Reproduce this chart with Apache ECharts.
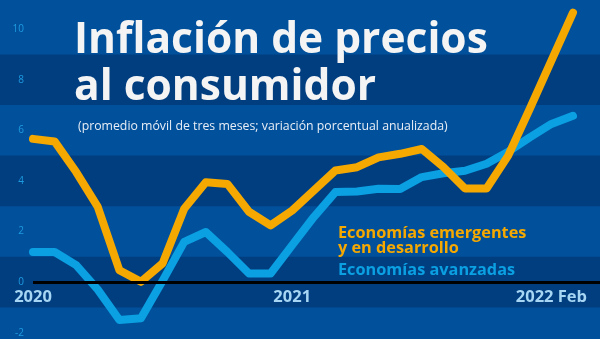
<!DOCTYPE html>
<html><head><meta charset="utf-8">
<script src="https://cdn.jsdelivr.net/npm/echarts@6/dist/echarts.min.js"></script>
<style>html,body{margin:0;padding:0;background:#00509b}#c{width:600px;height:339px}</style>
</head><body><div id="c"></div>
<script>
const months = ['Ene 2020','Feb 2020','Mar 2020','Abr 2020','May 2020','Jun 2020','Jul 2020','Ago 2020','Sep 2020','Oct 2020','Nov 2020','Dic 2020',
  'Ene 2021','Feb 2021','Mar 2021','Abr 2021','May 2021','Jun 2021','Jul 2021','Ago 2021','Sep 2021','Oct 2021','Nov 2021','Dic 2021',
  'Ene 2022','Feb 2022'];
const emerging = [5.66, 5.56, 4.35, 2.97, 0.47, 0.01, 0.74, 2.9, 3.95, 3.88, 2.78, 2.24, 2.83, 3.62, 4.41, 4.54, 4.93, 5.07, 5.26, 4.55, 3.7, 3.7, 5.0, 6.85, 8.75, 10.65];
const advanced = [1.19, 1.19, 0.67, -0.3, -1.5, -1.43, 0.05, 1.59, 1.98, 1.19, 0.34, 0.34, 1.46, 2.57, 3.56, 3.58, 3.69, 3.68, 4.15, 4.3, 4.4, 4.68, 5.15, 5.72, 6.25, 6.57];
const xTickIndex = [0, 12, 24];
const xTickLabels = ['2020', '2021', '2022 Feb'];
const yTicks = [-2, 0, 2, 4, 6, 8, 10];
const darkBands = [[-1, 1], [3, 5], [7, 9]];
const seriesNames = ['Economías emergentes\ny en desarrollo', 'Economías avanzadas'];
const titleText = 'Inflación de precios\nal consumidor';
const subtitleText = '(promedio móvil de tres meses; variación porcentual anualizada)';

const FONT = 'Open Sans';
const ORANGE = '#f5a800';
const BLUE = '#0aa0e2';
const X_MIN = -33 / 21.6, X_MAX = 26.25;
const pairs = arr => arr.map((v, i) => [i, v]);

const chart = echarts.init(document.getElementById('c'));
chart.setOption({
  backgroundColor: '#00509b',
  animation: false,
  textStyle: { fontFamily: FONT },
  title: [
    { text: titleText, left: 69, top: 12,
      textStyle: { color: '#f4f4f4', fontSize: 42.5, fontWeight: 'bold', lineHeight: 47, fontFamily: FONT } },
    { text: subtitleText, left: 73, top: 115,
      textStyle: { color: '#e8eef6', fontSize: 12.3, fontWeight: 'normal', fontFamily: FONT } },
    { text: seriesNames[0], left: 333, top: 221,
      textStyle: { color: ORANGE, fontSize: 16.3, fontWeight: 'bold', lineHeight: 15, fontFamily: FONT } },
    { text: seriesNames[1], left: 333, top: 258,
      textStyle: { color: BLUE, fontSize: 16.3, fontWeight: 'bold', lineHeight: 15, fontFamily: FONT } }
  ],
  grid: [
    { left: 0, right: 0, top: 0, bottom: 0, containLabel: false, outerBoundsMode: 'none' },
    { left: 0, right: 0, top: 0, bottom: 57, containLabel: false, outerBoundsMode: 'none' }
  ],
  xAxis: [
    {
      type: 'value', min: X_MIN, max: X_MAX, gridIndex: 0,
      splitLine: { show: false }, axisLine: { show: false }, axisTick: { show: false },
      axisLabel: { show: false }
    },
    {
      type: 'value', min: X_MIN, max: X_MAX, gridIndex: 1, position: 'bottom', z: 10,
      splitLine: { show: false }, axisLine: { show: false, onZero: false }, axisTick: { show: false },
      axisLabel: {
        customValues: xTickIndex, interval: 0,
        formatter: v => { const k = xTickIndex.indexOf(Math.round(v)); return k >= 0 ? xTickLabels[k] : ''; },
        color: '#a6d6f3', fontSize: 16.5, fontWeight: 'bold', margin: 7, fontFamily: FONT
      }
    }
  ],
  yAxis: [
    {
      type: 'value', min: -2.25, max: 11.15, offset: -33, gridIndex: 0, z: 10,
      splitLine: { show: false }, axisLine: { show: false }, axisTick: { show: false },
      axisLabel: {
        customValues: yTicks, interval: 0,
        formatter: v => String(v),
        color: '#1e9be0', fontSize: 10, margin: 9, fontFamily: FONT
      }
    },
    {
      type: 'value', min: 0, max: 1, gridIndex: 1, show: false
    }
  ],
  series: [
    {
      name: 'bands', type: 'line', data: [], silent: true, xAxisIndex: 0, yAxisIndex: 0, z: 1,
      markArea: {
        silent: true,
        itemStyle: { color: '#003e80' },
        data: darkBands.map(b => [{ yAxis: b[0] }, { yAxis: b[1] }])
      },
      markLine: {
        silent: true, symbol: 'none', label: { show: false },
        lineStyle: { color: '#000000', width: 3, type: 'solid' },
        data: [[{ coord: [0, 0] }, { coord: [X_MAX, 0] }]]
      }
    },
    {
      name: seriesNames[1], type: 'line', data: pairs(advanced), symbol: 'none', z: 3,
      xAxisIndex: 0, yAxisIndex: 0,
      lineStyle: { color: BLUE, width: 8, cap: 'round', join: 'round' }
    },
    {
      name: seriesNames[0], type: 'line', data: pairs(emerging), symbol: 'none', z: 4,
      xAxisIndex: 0, yAxisIndex: 0,
      lineStyle: { color: ORANGE, width: 8, cap: 'round', join: 'round' }
    }
  ]
});
</script></body></html>
